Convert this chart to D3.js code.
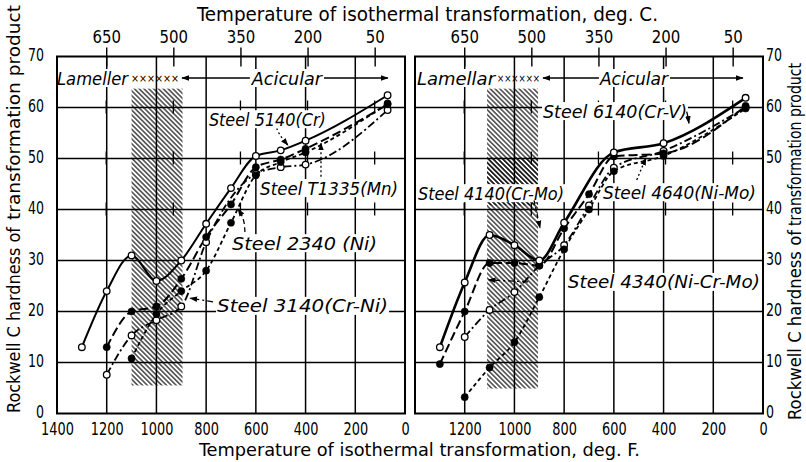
<!DOCTYPE html>
<html><head><meta charset="utf-8">
<script src="https://cdn.jsdelivr.net/npm/d3@7"></script>
<style>
body{margin:0;background:#fff}
svg{display:block}
text{font-family:"Liberation Sans Narrow","DejaVu Sans Condensed","Liberation Sans","DejaVu Sans",sans-serif;fill:#000}
</style></head><body>
<svg id="c" width="806" height="462"></svg>
<script>
// ---------- data ----------
const tickFLeft = [1400,1200,1000,800,600,400,200,0];
const tickFRight = [1200,1000,800,600,400,200,0];
const gridF = [1200,1000,800,600,400,200];
const tickC = [650,500,350,200,50];
const tickY = [0,10,20,30,40,50,60,70];
const gridY = [10,20,30,40,50,60];
const crossTickY = [60,50,40];

// left panel series: [deg F, Rockwell C]
const s5140 = [[1300,13],[1200,24],[1100,31],[1000,26],[900,30],[800,37.2],[700,44.2],[600,50.5],[500,51.6],[400,53.5],[70,62.4]];
const sT1335 = [[1200,13],[1100,20],[1000,21],[900,26.4],[800,34.6],[700,41],[600,48.3],[500,49.8],[400,51.9],[70,60.6]];
const s2340 = [[1100,10.8],[1000,19.5],[900,24],[800,28],[700,37.4],[600,46.7],[500,49.3],[400,51.2],[70,60.8]];
const s3140 = [[1200,7.6],[1100,15.3],[1000,18.3],[900,21],[800,33.6],[600,47],[500,48.3],[400,48.8],[70,59.5]];
// right panel series
const s4140 = [[1300,13],[1200,25.7],[1100,35],[1000,33],[900,30],[800,37.4],[600,51.2],[400,53],[70,61.9]];
const s6140 = [[1300,9.7],[1200,20],[1100,29.5],[1000,29.5],[900,29],[800,36.3],[700,43],[600,50.4],[400,51],[70,60.3]];
const s4340 = [[1200,15],[1100,20.3],[1000,23.8],[900,29],[800,33],[700,40.8],[600,48.2],[400,51.5],[70,60]];
const s4640 = [[1200,3.2],[1100,9],[1000,14],[900,22.8],[800,32.2],[700,40],[600,47.5],[400,50.5],[70,59.8]];

// hatched transformation zones: [F from, F to, HRC from, HRC to]
const hatchLeft = [[1100,895,5.5,63.7]];
const hatchRight = [[1110,905,4.9,50.2],[1110,905,40.8,63.7]];

// series labels: [text, F at start, HRC at centre]
const labelsLeft = [["Steel 5140(Cr)",789,57.7],["Steel T1335(Mn)",583,44.2],["Steel 2340 (Ni)",696,33.4],["Steel 3140(Cr-Ni)",756,21.1]];
const labelsRight = [["Steel 6140(Cr-V)",885,59.3],["Steel 4140(Cr-Mo)",1388,43.2],["Steel 4640(Ni-Mo)",644,43.4],["Steel 4340(Ni-Cr-Mo)",785,25.8]];
// pointer arrows: list of [F, HRC]
const arrowsLeft = [[[516,55.9],[505,54.6],[471,52.6]],[[338,46.4],[338,53.0]],[[644,35.6],[647,38.2],[672,40.1]],[[772,21.9],[865,22.6]]];
const arrowsRight = [[[307,59.2],[302,58.2],[298,56.9]],[[921,41.8],[897,36.4]],[[508,45.8],[471,50.1]],[[945,25.8],[1105,26.2]]];

const headerLeft = ["Lameller","Acicular"];
const headerRight = ["Lamellar","Acicular"];

// ---------- drawing ----------
const svg = d3.select("#c");
const y = d3.scaleLinear().domain([0,70]).range([413.5,56.5]);
const fToC = f => (f-32)*5/9;

const defs = svg.append("defs");
defs.append("pattern").attr("id","hatch").attr("patternUnits","userSpaceOnUse")
  .attr("width",3.4).attr("height",10).attr("patternTransform","rotate(-45)")
  .append("line").attr("x1",1.7).attr("x2",1.7).attr("y1",0).attr("y2",10)
  .attr("stroke","#000").attr("stroke-width",1.1);
defs.append("marker").attr("id","ah").attr("viewBox","0 0 10 10").attr("refX",9).attr("refY",5)
  .attr("markerWidth",8).attr("markerHeight",8).attr("markerUnits","userSpaceOnUse").attr("orient","auto")
  .append("path").attr("d","M0,1.5 L10,5 L0,8.5 z").attr("fill","#000");

svg.append("rect").attr("width",806).attr("height",462).attr("fill","#fff");

const styles = {
  solid:{dash:null,w:2,open:true},
  longdash:{dash:"9,4",w:2,open:false},
  shortdash:{dash:"4,3",w:1.8,open:false},
  dashdot:{dash:"8,3,2,3",w:1.8,open:true}
};

const panels = [
  {x0:57,x1:405,ticks:tickFLeft,hatch:hatchLeft,labels:labelsLeft,arrows:arrowsLeft,header:headerLeft,
   series:[[s3140,"dashdot"],[s2340,"shortdash"],[sT1335,"longdash"],[s5140,"solid"]],
   hdr:{lam:[1400,1114],cross:[1102,909],aL:[897,624],ac:[616,334],aR:[326,69]},
   arrowStyles:["2,2.5","2,2.5","5,3","6,3,2,3"]},
  {x0:415,x1:763,ticks:tickFRight,hatch:hatchRight,labels:labelsRight,arrows:arrowsRight,header:headerRight,
   series:[[s4340,"dashdot"],[s4640,"shortdash"],[s6140,"longdash"],[s4140,"solid"]],
   hdr:{lam:[1392,1078],cross:[1070,897],aL:[885,660],ac:[656,382],aR:[374,81]},
   arrowStyles:[null,"4,3","2,2.5","6,3,2,3"]}
];

const labelLen = {"Steel 5140(Cr)":117,"Steel T1335(Mn)":138,"Steel 2340 (Ni)":145,"Steel 3140(Cr-Ni)":171,
  "Steel 6140(Cr-V)":144,"Steel 4140(Cr-Mo)":146,"Steel 4640(Ni-Mo)":153,"Steel 4340(Ni-Cr-Mo)":192};

panels.forEach((p,pi)=>{
  const x = d3.scaleLinear().domain([1400,0]).range([p.x0,p.x1]);
  const xc = d3.scaleLinear().domain([fToC(1400),fToC(0)]).range([p.x0,p.x1]);
  const g = svg.append("g");

  // hatch
  g.selectAll(".h").data(p.hatch).enter().append("rect")
    .attr("x",d=>x(d[0])).attr("width",d=>x(d[1])-x(d[0]))
    .attr("y",d=>y(d[3])).attr("height",d=>y(d[2])-y(d[3]))
    .attr("fill","url(#hatch)");

  // grid
  g.selectAll(".gv").data(gridF).enter().append("line")
    .attr("x1",d=>x(d)).attr("x2",d=>x(d)).attr("y1",y(0)).attr("y2",y(70))
    .attr("stroke","#000").attr("stroke-width",1.5);
  g.selectAll(".gh").data(gridY).enter().append("line")
    .attr("y1",d=>y(d)).attr("y2",d=>y(d)).attr("x1",p.x0).attr("x2",p.x1)
    .attr("stroke","#000").attr("stroke-width",1.5);
  // celsius cross ticks on upper grid lines
  crossTickY.forEach(v=>{
    g.selectAll(null).data(tickC).enter().append("line")
      .attr("x1",d=>xc(d)).attr("x2",d=>xc(d)).attr("y1",y(v)-7).attr("y2",y(v)+6)
      .attr("stroke","#000").attr("stroke-width",1.3);
  });
  // frame
  g.append("rect").attr("x",p.x0).attr("y",y(70)).attr("width",p.x1-p.x0).attr("height",y(0)-y(70))
    .attr("fill","none").attr("stroke","#000").attr("stroke-width",2);

  // axes
  const bottom = g.append("g").attr("transform",`translate(0,${y(0)})`)
    .call(d3.axisBottom(x).tickValues(p.ticks).tickSize(0).tickFormat(d3.format("d")));
  bottom.select(".domain").remove();
  bottom.selectAll("text").attr("dy",null).attr("y",21).attr("font-size",17)
    .attr("textLength",d=>String(d).length*8.2).attr("lengthAdjust","spacingAndGlyphs");

  const top = g.append("g").attr("transform",`translate(0,${y(70)})`)
    .call(d3.axisTop(xc).tickValues(tickC).tickSize(10).tickSizeOuter(0).tickFormat(d3.format("d")));
  top.select(".domain").remove();
  top.selectAll(".tick line").attr("y1",10).attr("y2",-9).attr("stroke-width",1.4);
  top.selectAll("text").attr("dy",null).attr("y",-13.5).attr("font-size",18)
    .attr("textLength",d=>String(d).length*9.5).attr("lengthAdjust","spacingAndGlyphs");

  const yAxis = pi===0 ? d3.axisLeft(y) : d3.axisRight(y);
  const ya = g.append("g").attr("transform",`translate(${pi===0?p.x0:p.x1},0)`)
    .call(yAxis.tickValues(tickY).tickSize(0).tickPadding(pi===0?13:3));
  ya.select(".domain").remove();
  ya.selectAll("text").attr("dy","0.22em").attr("font-size",17)
    .attr("textLength",d=>String(d).length*8).attr("lengthAdjust","spacingAndGlyphs");

  // labels with white background
  p.labels.forEach(l=>{
    const len = labelLen[l[0]];
    const lx = x(l[1]), cy = y(l[2]);
    g.append("rect").attr("x",lx-1).attr("y",cy-9).attr("width",len+2).attr("height",18).attr("fill","#fff");
    g.append("text").attr("x",lx).attr("y",cy+6.5).attr("font-size",18).attr("font-style","italic")
      .attr("textLength",len).attr("lengthAdjust","spacingAndGlyphs").text(l[0]);
  });

  // header: Lamellar xxxxxx <---- Acicular ---->
  const hy = 78, h = p.hdr;
  const lamLen = x(h.lam[1])-x(h.lam[0]);
  g.append("rect").attr("x",x(h.lam[0])+1).attr("y",hy-9).attr("width",lamLen).attr("height",18).attr("fill","#fff");
  g.append("text").attr("x",x(h.lam[0])).attr("y",hy+6.5).attr("font-size",18).attr("font-style","italic")
    .attr("textLength",lamLen).attr("lengthAdjust","spacingAndGlyphs").text(p.header[0]);
  g.append("text").attr("x",x(h.cross[0])).attr("y",hy+3.5).attr("font-size",11)
    .attr("textLength",x(h.cross[1])-x(h.cross[0])).attr("lengthAdjust","spacingAndGlyphs").text("××××××");
  const acLen = x(h.ac[1])-x(h.ac[0]);
  g.append("rect").attr("x",x(h.ac[0])-1).attr("y",hy-9).attr("width",acLen+2).attr("height",18).attr("fill","#fff");
  g.append("text").attr("x",x(h.ac[0])).attr("y",hy+6.5).attr("font-size",18).attr("font-style","italic")
    .attr("textLength",acLen).attr("lengthAdjust","spacingAndGlyphs").text(p.header[1]);
  g.append("line").attr("x1",x(h.aL[1])).attr("x2",x(h.aL[0])).attr("y1",hy).attr("y2",hy)
    .attr("stroke","#000").attr("stroke-width",1.5).attr("marker-end","url(#ah)");
  g.append("line").attr("x1",x(h.aR[0])).attr("x2",x(h.aR[1])).attr("y1",hy).attr("y2",hy)
    .attr("stroke","#000").attr("stroke-width",1.5).attr("marker-end","url(#ah)");

  // series
  const line = d3.line().x(d=>x(d[0])).y(d=>y(d[1])).curve(d3.curveMonotoneX);
  p.series.forEach(([data,st])=>{
    const s = styles[st];
    g.append("path").attr("d",line(data)).attr("fill","none").attr("stroke","#000")
      .attr("stroke-width", (pi===1 && st==="solid") ? 2.6 : s.w)
      .attr("stroke-dasharray",s.dash);
  });
  p.series.forEach(([data,st])=>{
    const s = styles[st];
    g.selectAll(null).data(data).enter().append("circle")
      .attr("cx",d=>x(d[0])).attr("cy",d=>y(d[1]))
      .attr("r",s.open?3.3:3.6)
      .attr("fill",s.open?"#fff":"#000").attr("stroke","#000").attr("stroke-width",s.open?1.3:0.5);
  });

  // pointer arrows
  const aline = d3.line().x(d=>x(d[0])).y(d=>y(d[1])).curve(d3.curveBasis);
  p.arrows.forEach((a,i)=>{
    g.append("path").attr("d",aline(a)).attr("fill","none").attr("stroke","#000").attr("stroke-width",1.3)
      .attr("stroke-dasharray",p.arrowStyles[i]).attr("marker-end","url(#ah)");
  });
});

// titles
function t(str,x,yb,len,size,rot){
  const el = svg.append("text").attr("font-size",size).attr("textLength",len).attr("lengthAdjust","spacingAndGlyphs").text(str);
  if(rot){ el.attr("transform",`translate(${x},${yb}) rotate(-90)`); }
  else { el.attr("x",x).attr("y",yb); }
}
t("Temperature of isothermal transformation, deg. C.",197,21,461,19);
t("Temperature of isothermal transformation, deg. F.",199,456,441,18);
t("Rockwell C hardness of",20,413,186,18,true);
t("transformation product",20,220,215,18,true);
t("Rockwell C hardness of",801,420,190,18,true);
t("transformation product",801,226,163,18,true);
</script>
</body></html>
